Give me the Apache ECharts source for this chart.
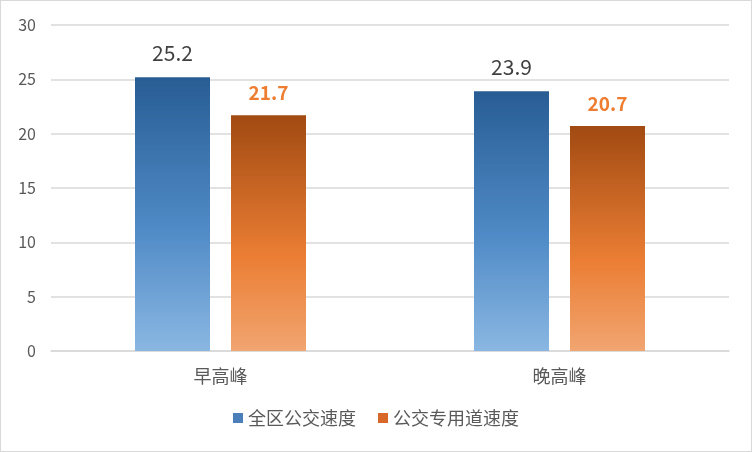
<!DOCTYPE html>
<html><head><meta charset="utf-8">
<script src="https://cdn.jsdelivr.net/npm/echarts@6/dist/echarts.min.js"></script>
<style>
html,body{margin:0;padding:0;background:#fff;}
#c{position:absolute;left:0;top:0;width:750px;height:450px;border:1px solid #d9d9d9;box-sizing:content-box;}
</style></head>
<body><div id="c"></div>
<script>
var categories = ['早高峰', '晚高峰'];
var seriesNames = ['全区公交速度', '公交专用道速度'];
var allBusSpeed = [25.2, 23.9];
var laneSpeed = [21.7, 20.7];
var yTicks = [0, 5, 10, 15, 20, 25, 30];

var chart = echarts.init(document.getElementById('c'), null, {renderer: 'canvas'});
var font = '"Microsoft YaHei","Noto Sans CJK SC",sans-serif';
function grad(stops){
  return new echarts.graphic.LinearGradient(0,0,0,1, stops.map(function(s){return {offset:s[0], color:s[1]};}));
}
chart.setOption({
  animation: false,
  textStyle: {fontFamily: font},
  grid: {left: 50, right: 22, top: 24, bottom: 100, containLabel: false},
  legend: {
    bottom: 19, left: 'center',
    itemWidth: 10, itemHeight: 10, itemGap: 22,
    textStyle: {fontSize: 18, color: '#595959', fontFamily: font},
    data: [
      {name: seriesNames[0], icon: 'rect', itemStyle: {color: '#4a7fba'}},
      {name: seriesNames[1], icon: 'rect', itemStyle: {color: '#d8682a'}}
    ]
  },
  xAxis: {
    type: 'category', data: categories,
    axisLine: {show: true, lineStyle: {color: '#d9d9d9', width: 1.5}},
    axisTick: {show: false},
    axisLabel: {fontSize: 18, color: '#595959', margin: 16, fontFamily: font}
  },
  yAxis: {
    type: 'value', min: yTicks[0], max: yTicks[yTicks.length-1], interval: 5,
    axisLine: {show: false}, axisTick: {show: false},
    axisLabel: {fontSize: 16, color: '#595959', margin: 15, fontFamily: font},
    splitLine: {lineStyle: {color: '#d9d9d9', width: 1.5}}
  },
  series: [
    {
      name: seriesNames[0], type: 'bar', data: allBusSpeed,
      barWidth: 75, barGap: '28%',
      itemStyle: {color: grad([[0,'#285d94'],[0.55,'#4f8ac6'],[1,'#8ab7e2']])},
      label: {show: true, position: 'top', distance: 14, fontSize: 21, color: '#404040', fontFamily: font}
    },
    {
      name: seriesNames[1], type: 'bar', data: laneSpeed,
      barWidth: 75,
      itemStyle: {color: grad([[0,'#a14a12'],[0.6,'#eb7e34'],[1,'#f1a571']])},
      label: {show: true, position: 'top', distance: 11, fontSize: 19, fontWeight: 'bold', color: '#ed7d31', fontFamily: font,
        backgroundColor: '#fff', padding: [2, 4]}
    }
  ]
});
</script></body></html>
